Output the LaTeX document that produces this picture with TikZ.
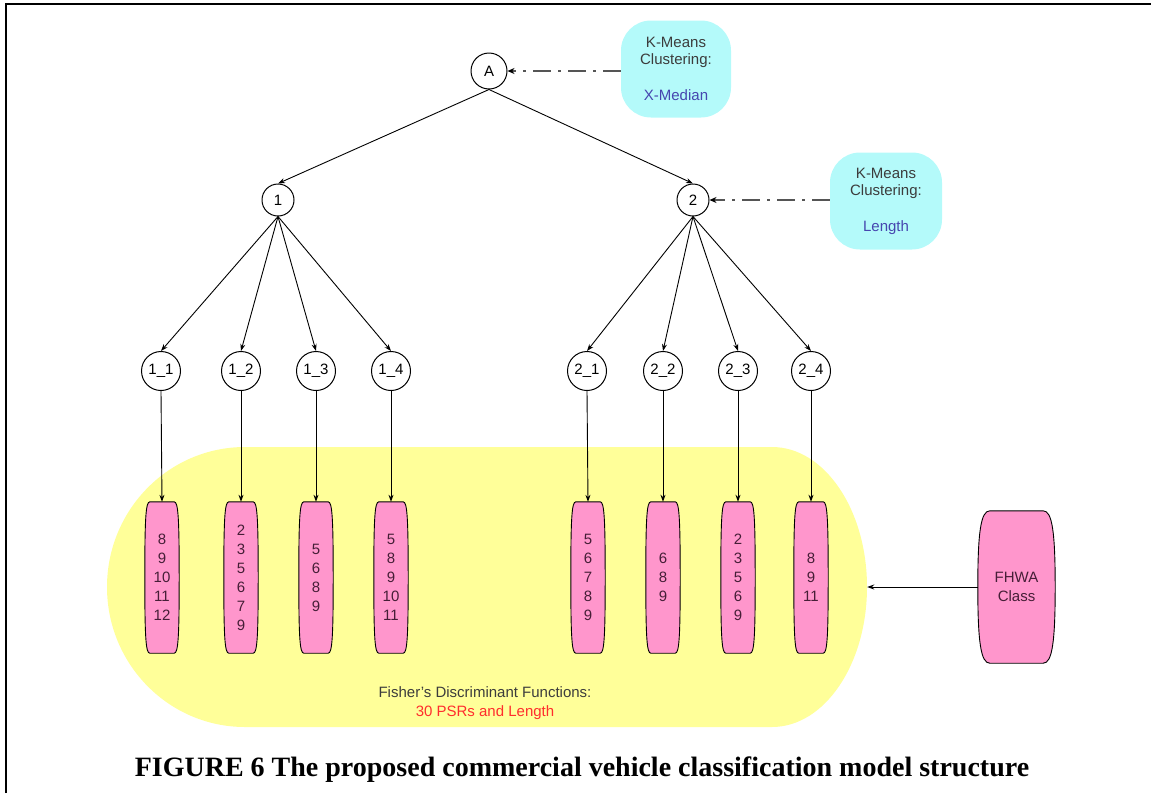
\documentclass[tikz,border=0pt]{standalone}
\usepackage{fontspec}
\setmainfont{Liberation Serif}
\setsansfont{Liberation Sans}
\usetikzlibrary{calc,arrows.meta}
\pgfdeclarelayer{bg}
\pgfdeclarelayer{mid}
\pgfsetlayers{bg,mid,main}
\definecolor{kcyan}{RGB}{180,250,250}
\definecolor{fyellow}{RGB}{255,255,153}
\definecolor{lpink}{RGB}{255,150,204}
\definecolor{ktext}{RGB}{60,60,60}
\definecolor{ntext}{RGB}{70,30,55}
\definecolor{kblue}{RGB}{70,70,175}
\definecolor{fred}{RGB}{255,45,45}
\definecolor{dashgray}{RGB}{85,85,85}
\begin{document}
\begin{tikzpicture}[x=1pt,y=-1pt,
  every node/.style={font=\sffamily\fontsize{15}{19}\selectfont},
  circ/.style={circle,draw,line width=1pt,fill=white,inner sep=0pt,minimum size=#1},
  circ/.default=32pt,
  leafbox/.style={minimum width=34pt,minimum height=151pt,inner sep=0pt,align=center,text=ntext},
  kbox/.style={draw=none,fill=kcyan,rounded corners=30pt,minimum width=110pt,minimum height=97pt,inner sep=0pt,align=center,text=ktext,font=\sffamily\fontsize{15}{17}\selectfont},
  barrel/.style={line width=0.9pt,fill=lpink},
  conn/.style={line width=0.9pt,-{Stealth[length=7pt,width=5pt]}},
  kconn/.style={line width=2.8pt,dashgray,dash pattern=on 18pt off 7pt on 3pt off 7pt,-{Stealth[length=7pt,width=6pt,black]}}
]
\useasboundingbox (0,0) rectangle (1151,793);
\draw[line width=2pt] (6,793) -- (6,4) -- (1151,4);

% yellow region
\node[minimum width=760pt,minimum height=280pt,inner sep=0pt] (fisher) at (487,587) {};
\begin{pgfonlayer}{bg}
\fill[fyellow] (245,447) -- (772,447) arc[start angle=90,end angle=-90,x radius=95pt,y radius=140pt]
  -- (245,727) arc[start angle=270,end angle=90,x radius=138pt,y radius=140pt] -- cycle;
\end{pgfonlayer}
\node[align=center,text=ktext] (fishtxt) at (485,703) {Fisher's Discriminant Functions:\\\textcolor{fred}{30 PSRs and Length}};

% tree nodes
\node[circ=36pt] (A) at (489,71) {A};
\node[circ] (n1) at (278,200) {1};
\node[circ] (n2) at (693,200) {2};
\node[circ=39pt] (l11) at (161,371) {1\_1};
\node[circ=39pt] (l12) at (241,371) {1\_2};
\node[circ=39pt] (l13) at (316,371) {1\_3};
\node[circ=39pt] (l14) at (391,371) {1\_4};
\node[circ=39pt] (l21) at (587,371) {2\_1};
\node[circ=39pt] (l22) at (663,371) {2\_2};
\node[circ=39pt] (l23) at (738,371) {2\_3};
\node[circ=39pt] (l24) at (811,371) {2\_4};

% K-means boxes
\node[kbox] (km1) at (676,69) {K-Means\\Clustering:\\[19pt]\textcolor{kblue}{X-Median}};
\node[kbox,minimum width=112pt] (km2) at (886,201) {K-Means\\Clustering:\\[19pt]\textcolor{kblue}{Length}};

% leaf boxes
\node[leafbox] (b11) at (162,577.5) {8\\9\\10\\11\\12};
\node[leafbox] (b12) at (241,577.5) {2\\3\\5\\6\\7\\9};
\node[leafbox] (b13) at (316,577.5) {5\\6\\8\\9};
\node[leafbox] (b14) at (391,577.5) {5\\8\\9\\10\\11};
\node[leafbox] (b21) at (588,577.5) {5\\6\\7\\8\\9};
\node[leafbox] (b22) at (663,577.5) {6\\8\\9};
\node[leafbox] (b23) at (738,577.5) {2\\3\\5\\6\\9};
\node[leafbox] (b24) at (811,577.5) {8\\9\\11};
\node[leafbox,minimum width=77pt,minimum height=152pt] (fhwa) at (1016.5,587) {FHWA\\Class};

\begin{pgfonlayer}{mid}
\foreach \b in {b11,b12,b13,b14,b21,b22,b23,b24}{
  \draw[barrel] ($(\b.north west)+(5,0)$) -- ($(\b.north east)+(-5,0)$)
    .. controls +(4,0) and +(0,-60) .. (\b.east)
    .. controls +(0,60) and +(4,0) .. ($(\b.south east)+(-5,0)$)
    -- ($(\b.south west)+(5,0)$)
    .. controls +(-4,0) and +(0,60) .. (\b.west)
    .. controls +(0,-60) and +(-4,0) .. ($(\b.north west)+(5,0)$) -- cycle;
}
\draw[barrel] ($(fhwa.north west)+(12,0)$) -- ($(fhwa.north east)+(-12,0)$)
    .. controls +(9,0) and +(0,-55) .. (fhwa.east)
    .. controls +(0,55) and +(9,0) .. ($(fhwa.south east)+(-12,0)$)
    -- ($(fhwa.south west)+(12,0)$)
    .. controls +(-9,0) and +(0,55) .. (fhwa.west)
    .. controls +(0,-55) and +(-9,0) .. ($(fhwa.north west)+(12,0)$) -- cycle;
\end{pgfonlayer}

% connectors
\draw[conn] (A.south) -- (n1.north);
\draw[conn] (A.south) -- (n2.north);
\foreach \l in {11,12,13,14} \draw[conn] (n1.south) -- (l\l.north);
\foreach \l in {21,22,23,24} \draw[conn] (n2.south) -- (l\l.north);
\foreach \l in {11,12,13,14,21,22,23,24} \draw[conn] (l\l.south) -- (b\l.north);
\draw[kconn] (km1.west |- A.east) -- (A.east);
\draw[kconn] (km2.west |- n2.east) -- (n2.east);
\draw[conn] (fhwa.west) -- (fisher.east);

% caption
\node[font=\rmfamily\bfseries\fontsize{28}{30}\selectfont,anchor=base] (cap) at (582,776) {FIGURE 6 The proposed commercial vehicle classification model structure};
\end{tikzpicture}
\end{document}
